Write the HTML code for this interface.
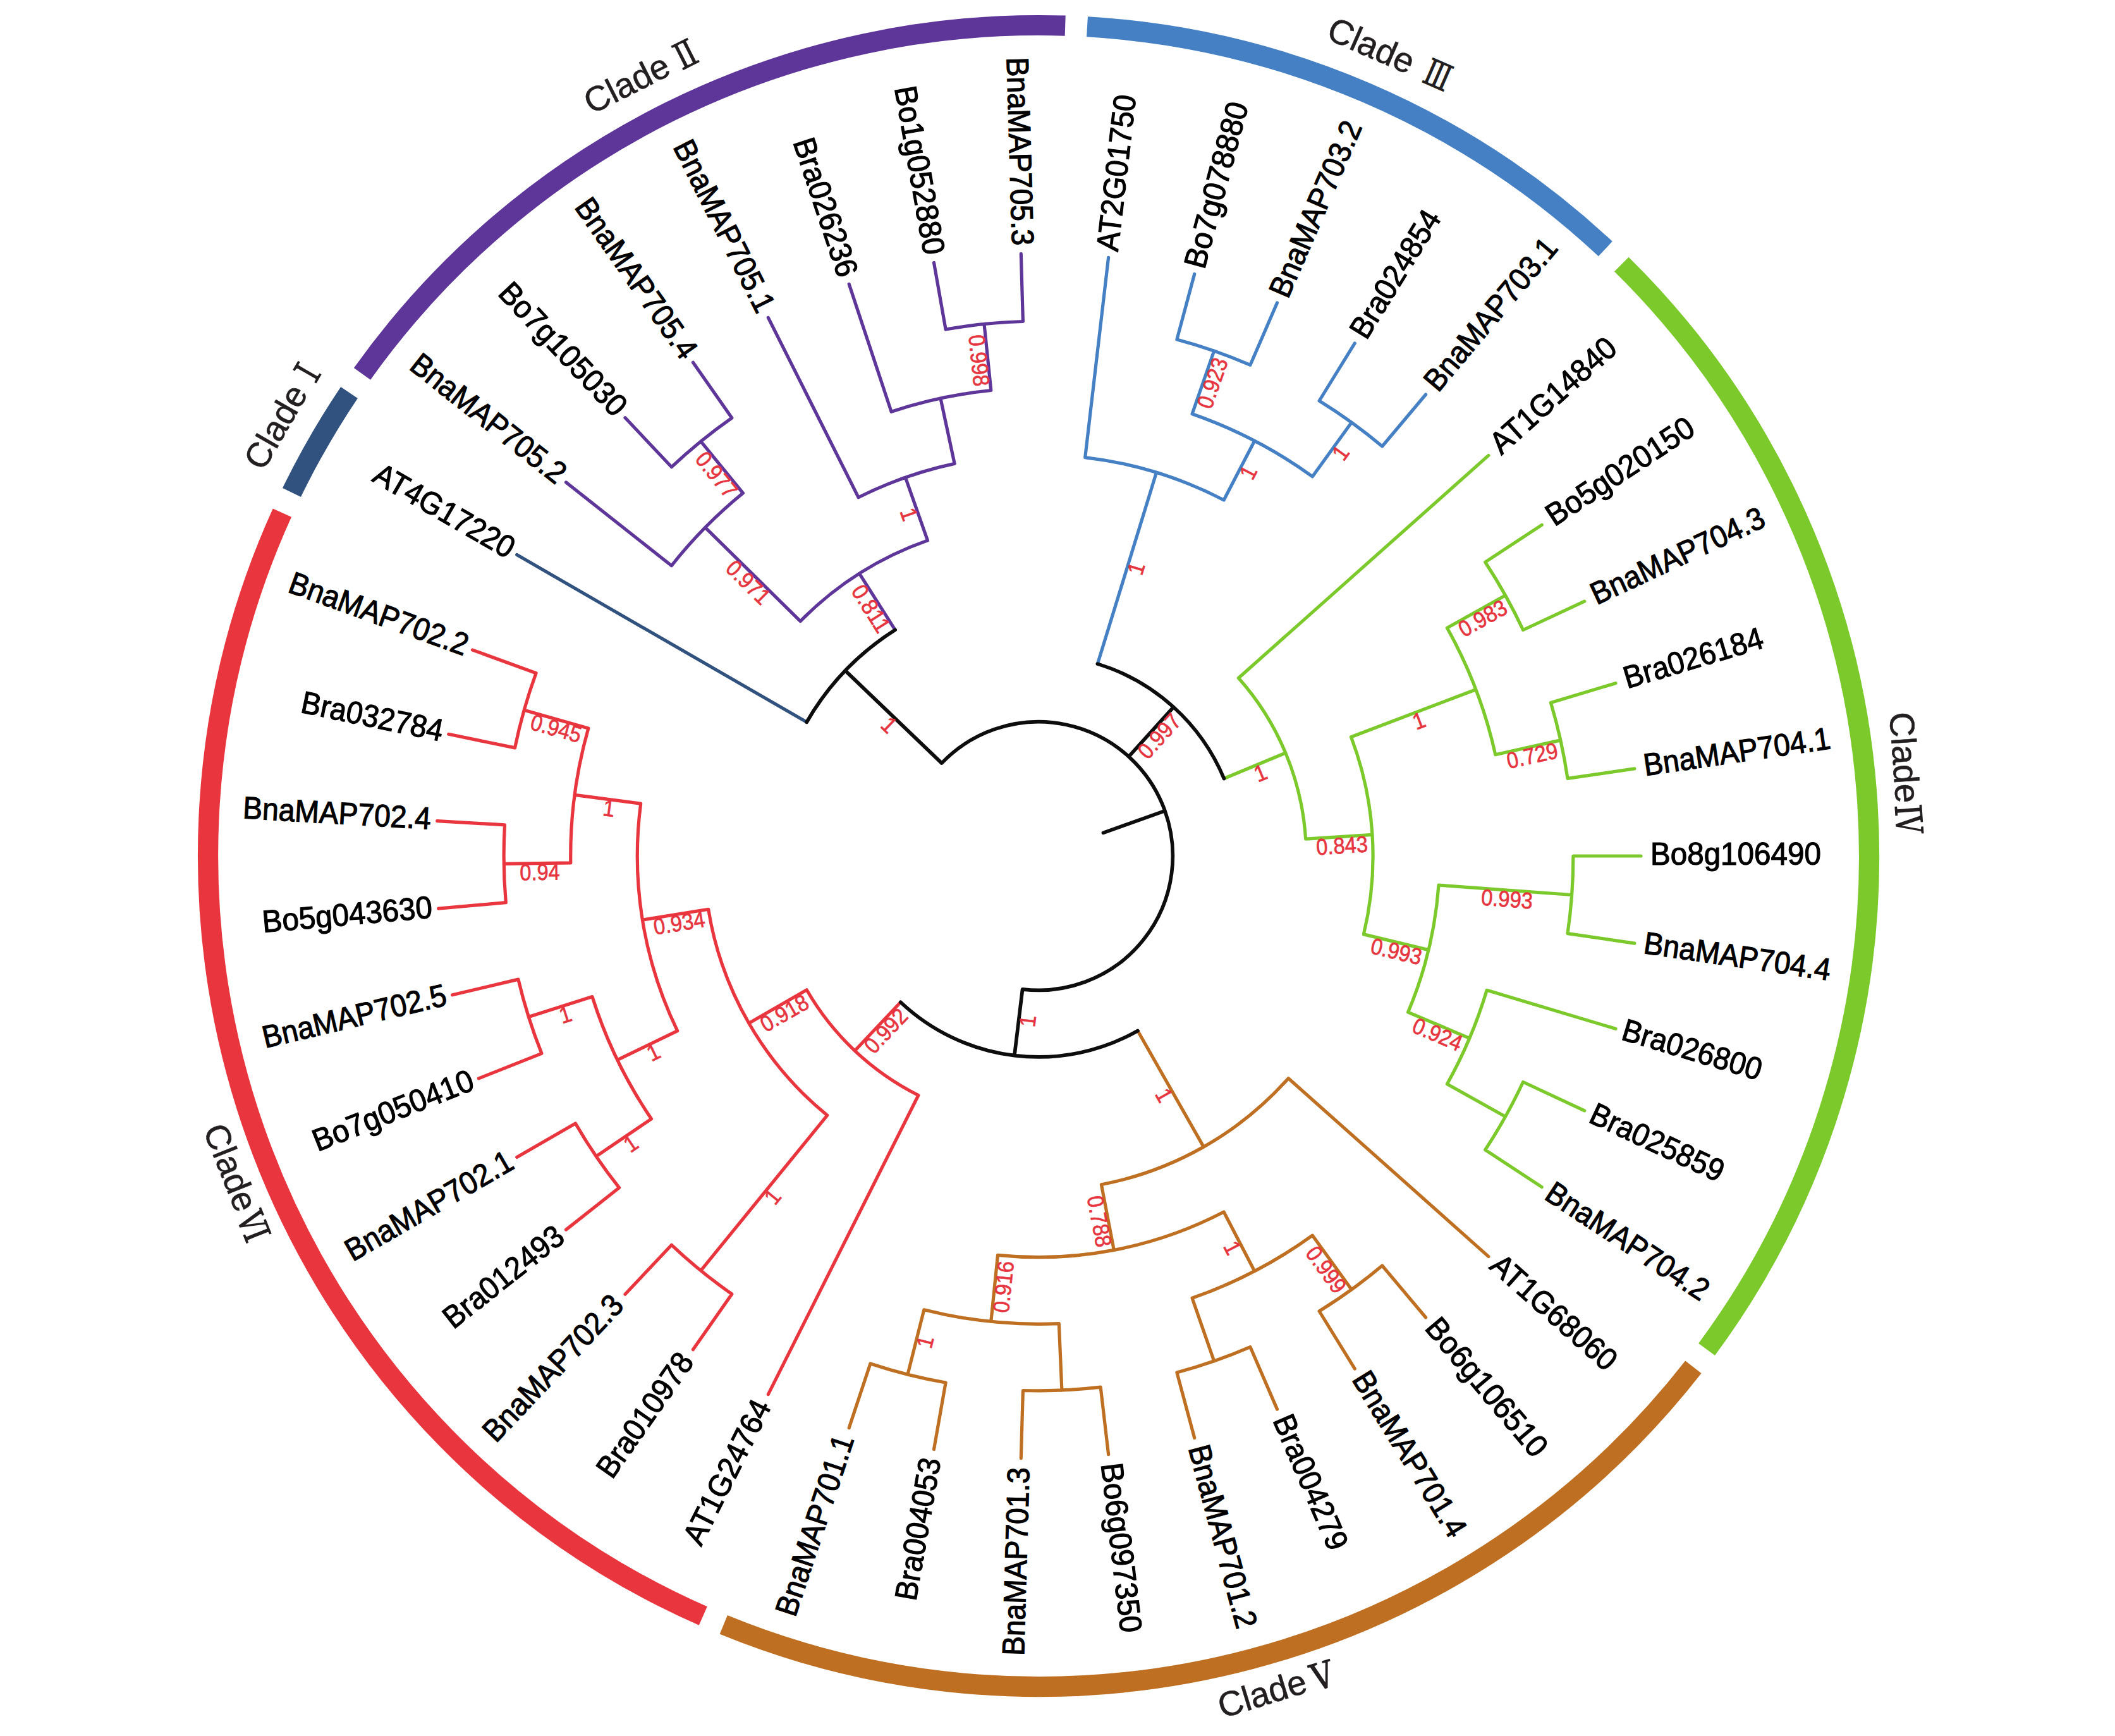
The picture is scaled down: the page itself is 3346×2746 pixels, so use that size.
<!DOCTYPE html>
<html><head><meta charset="utf-8"><title>Phylogenetic tree</title>
<style>html,body{margin:0;padding:0;background:#fff}svg{display:block}</style></head>
<body>
<svg width="3346" height="2746" viewBox="0 0 3346 2746">
<rect width="3346" height="2746" fill="#fff"/>
<path d="M552.5 620.9A1314.0 1314.0 0 0 0 461.5 779.0" fill="none" stroke="#31527e" stroke-width="32.2"/>
<path d="M446.4 811.2A1314.0 1314.0 0 0 0 1112.3 2556.1" fill="none" stroke="#e9353e" stroke-width="32.2"/>
<path d="M1144.8 2569.9A1314.0 1314.0 0 0 0 2678.9 2162.4" fill="none" stroke="#bf6f21" stroke-width="32.2"/>
<path d="M2700.1 2134.5A1314.0 1314.0 0 0 0 2565.3 418.1" fill="none" stroke="#7cc92c" stroke-width="32.2"/>
<path d="M2539.8 393.6A1314.0 1314.0 0 0 0 1720.0 42.3" fill="none" stroke="#4580c4" stroke-width="32.2"/>
<path d="M1685.2 40.7A1314.0 1314.0 0 0 0 573.0 591.3" fill="none" stroke="#5e3699" stroke-width="32.2"/>
<path d="M1424.8 1585.2L1352.4 1662.0M1276.2 1565.8A423.5 423.5 0 0 0 1452.9 1732.5M1276.2 1565.8L1184.8 1618.6M1120.7 1438.3A529.1 529.1 0 0 0 1308.8 1764.2M1120.7 1438.3L1016.4 1455.1M1013.7 1271.2A634.7 634.7 0 0 0 1071.7 1630.6M1013.7 1271.2L909.0 1257.4M930.8 1152.0A740.3 740.3 0 0 0 902.8 1364.8M930.8 1152.0L829.2 1123.2M848.1 1064.7A845.9 845.9 0 0 0 814.6 1182.9M848.1 1064.7L747.5 1028.1M814.6 1182.9L709.7 1161.3M902.8 1364.8L797.2 1366.3M798.5 1304.8A845.9 845.9 0 0 0 800.3 1427.7M798.5 1304.8L691.6 1298.6M800.3 1427.7L693.6 1437.1M1071.7 1630.6L976.7 1676.6M937.0 1576.6A740.3 740.3 0 0 0 1030.5 1769.8M937.0 1576.6L836.3 1608.4M819.9 1549.1A845.9 845.9 0 0 0 856.9 1666.3M819.9 1549.1L715.7 1573.8M856.9 1666.3L757.3 1705.9M1030.5 1769.8L943.1 1829.1M910.4 1777.0A845.9 845.9 0 0 0 979.5 1878.7M910.4 1777.0L817.7 1830.5M979.5 1878.7L895.5 1945.1M1308.8 1764.2L1108.7 2009.8M1062.5 1969.3A845.9 845.9 0 0 0 1157.8 2046.9M1062.5 1969.3L989.0 2047.2M1157.8 2046.9L1096.4 2134.7M1452.9 1732.5L1215.3 2205.6" fill="none" stroke="#e9353e" stroke-width="5.2" stroke-linecap="round" stroke-linejoin="round"/>
<path d="M1799.9 1630.5L1904.2 1814.1M1742.4 1873.7A529.1 529.1 0 0 0 2038.3 1705.7M1742.4 1873.7L1762.3 1977.4M1578.5 1985.4A634.7 634.7 0 0 0 1936.1 1917.0M1578.5 1985.4L1567.8 2090.5M1461.8 2071.8A740.3 740.3 0 0 0 1675.3 2093.6M1461.8 2071.8L1436.0 2174.2M1376.9 2157.0A845.9 845.9 0 0 0 1496.1 2187.0M1376.9 2157.0L1343.2 2258.6M1496.1 2187.0L1477.5 2292.5M1675.3 2093.6L1679.9 2199.1M1618.4 2199.5A845.9 845.9 0 0 0 1741.2 2194.2M1618.4 2199.5L1615.3 2306.6M1741.2 2194.2L1753.6 2300.6M1936.1 1917.0L1984.8 2010.7M1886.1 2053.3A740.3 740.3 0 0 0 2076.4 1954.2M1886.1 2053.3L1920.7 2153.0M1861.9 2171.1A845.9 845.9 0 0 0 1978.0 2130.7M1861.9 2171.1L1889.7 2274.5M1978.0 2130.7L2020.5 2229.1M2076.4 1954.2L2138.2 2039.8M2087.1 2074.0A845.9 845.9 0 0 0 2186.7 2002.0M2087.1 2074.0L2143.3 2165.1M2186.7 2002.0L2255.6 2084.0M2038.3 1705.7L2354.9 1987.6" fill="none" stroke="#bf6f21" stroke-width="5.2" stroke-linecap="round" stroke-linejoin="round"/>
<path d="M1936.4 1231.5L2033.8 1190.9M2065.6 1327.1A423.5 423.5 0 0 0 1959.4 1072.5M2065.6 1327.1L2171.0 1320.4M2157.4 1477.9A529.1 529.1 0 0 0 2137.5 1165.8M2157.4 1477.9L2260.1 1502.6M2227.6 1601.1A634.7 634.7 0 0 0 2276.0 1400.1M2227.6 1601.1L2324.9 1642.3M2289.4 1714.8A740.3 740.3 0 0 0 2352.2 1566.3M2289.4 1714.8L2381.6 1766.3M2349.7 1818.8A845.9 845.9 0 0 0 2409.6 1711.5M2349.7 1818.8L2439.2 1877.7M2409.6 1711.5L2506.7 1756.8M2352.2 1566.3L2556.0 1627.3M2276.0 1400.1L2486.7 1415.5M2480.0 1476.6A845.9 845.9 0 0 0 2488.9 1354.0M2480.0 1476.6L2585.9 1492.1M2488.9 1354.0L2596.0 1354.0M2137.5 1165.8L2334.9 1090.7M2365.8 1193.8A740.3 740.3 0 0 0 2289.4 993.2M2365.8 1193.8L2468.8 1170.9M2480.0 1231.4A845.9 845.9 0 0 0 2453.4 1111.4M2480.0 1231.4L2585.9 1215.9M2453.4 1111.4L2556.0 1080.7M2289.4 993.2L2381.6 941.7M2409.6 996.5A845.9 845.9 0 0 0 2349.7 889.2M2409.6 996.5L2506.7 951.2M2349.7 889.2L2439.2 830.3M1959.4 1072.5L2354.9 720.4" fill="none" stroke="#7cc92c" stroke-width="5.2" stroke-linecap="round" stroke-linejoin="round"/>
<path d="M1736.4 1050.1L1829.5 747.3M1936.1 791.0A634.7 634.7 0 0 0 1716.7 723.6M1936.1 791.0L1984.8 697.3M2076.4 753.8A740.3 740.3 0 0 0 1886.1 654.7M2076.4 753.8L2138.2 668.2M2186.7 706.0A845.9 845.9 0 0 0 2087.1 634.0M2186.7 706.0L2255.6 624.0M2087.1 634.0L2143.3 542.9M1886.1 654.7L1920.7 555.0M1978.0 577.3A845.9 845.9 0 0 0 1861.9 536.9M1978.0 577.3L2020.5 478.9M1861.9 536.9L1889.7 433.5M1716.7 723.6L1753.6 407.4" fill="none" stroke="#4580c4" stroke-width="5.2" stroke-linecap="round" stroke-linejoin="round"/>
<path d="M1416.1 996.4L1359.5 907.2M1467.5 854.9A529.1 529.1 0 0 0 1266.2 982.6M1467.5 854.9L1432.4 755.2M1510.1 733.4A634.7 634.7 0 0 0 1358.1 786.8M1510.1 733.4L1488.0 630.1M1567.8 617.5A740.3 740.3 0 0 0 1410.1 651.3M1567.8 617.5L1557.0 512.5M1618.4 508.5A845.9 845.9 0 0 0 1496.1 521.0M1618.4 508.5L1615.3 401.4M1496.1 521.0L1477.5 415.5M1410.1 651.3L1343.2 449.4M1358.1 786.8L1215.3 502.4M1266.2 982.6L1115.7 834.3M1175.4 780.0A740.3 740.3 0 0 0 1062.3 894.8M1175.4 780.0L1108.7 698.2M1157.8 661.1A845.9 845.9 0 0 0 1062.5 738.7M1157.8 661.1L1096.4 573.3M1062.5 738.7L989.0 660.8M1062.3 894.8L895.5 762.9" fill="none" stroke="#5e3699" stroke-width="5.2" stroke-linecap="round" stroke-linejoin="round"/>
<path d="M1276.2 1142.2L817.7 877.5" fill="none" stroke="#31527e" stroke-width="5.2" stroke-linecap="round" stroke-linejoin="round"/>
<path d="M1617.6 1564.8A212.3 212.3 0 1 0 1489.8 1207.1M1617.6 1564.8L1604.9 1669.6M1424.8 1585.2A317.9 317.9 0 0 0 1799.9 1630.5M1785.6 1196.8L1856.6 1118.5M1936.4 1231.5A317.9 317.9 0 0 0 1736.4 1050.1M1489.8 1207.1L1337.3 1060.9M1416.1 996.4A423.5 423.5 0 0 0 1276.2 1142.2M1842.9 1282.6L1745.4 1317.4" fill="none" stroke="#0d0d0d" stroke-width="5.7" stroke-linecap="round" stroke-linejoin="round"/>
<g font-family="'Liberation Sans', sans-serif" font-size="49.5" fill="#000" stroke="#000" stroke-width="1.15">
<text transform="translate(738.3 1024.7) rotate(20.00)" x="0" y="13.7" text-anchor="end" textLength="298.0" lengthAdjust="spacingAndGlyphs">BnaMAP702.2</text>
<text transform="translate(700.1 1159.3) rotate(11.67)" x="0" y="13.7" text-anchor="end" textLength="228.1" lengthAdjust="spacingAndGlyphs">Bra032784</text>
<text transform="translate(681.8 1298.0) rotate(3.33)" x="0" y="13.7" text-anchor="end" textLength="298.0" lengthAdjust="spacingAndGlyphs">BnaMAP702.4</text>
<text transform="translate(683.9 1437.9) rotate(-5.00)" x="0" y="13.7" text-anchor="end" textLength="269.9" lengthAdjust="spacingAndGlyphs">Bo5g043630</text>
<text transform="translate(706.2 1576.0) rotate(-13.33)" x="0" y="13.7" text-anchor="end" textLength="298.0" lengthAdjust="spacingAndGlyphs">BnaMAP702.5</text>
<text transform="translate(748.2 1709.5) rotate(-21.67)" x="0" y="13.7" text-anchor="end" textLength="269.9" lengthAdjust="spacingAndGlyphs">Bo7g050410</text>
<text transform="translate(809.2 1835.4) rotate(-30.00)" x="0" y="13.7" text-anchor="end" textLength="298.0" lengthAdjust="spacingAndGlyphs">BnaMAP702.1</text>
<text transform="translate(887.8 1951.2) rotate(-38.33)" x="0" y="13.7" text-anchor="end" textLength="228.1" lengthAdjust="spacingAndGlyphs">Bra012493</text>
<text transform="translate(979.1 2057.7) rotate(-46.67)" x="0" y="13.7" text-anchor="end" textLength="298.0" lengthAdjust="spacingAndGlyphs">BnaMAP702.3</text>
<text transform="translate(1088.1 2146.5) rotate(-55.00)" x="0" y="13.7" text-anchor="end" textLength="228.1" lengthAdjust="spacingAndGlyphs">Bra010978</text>
<text transform="translate(1208.8 2218.6) rotate(-63.33)" x="0" y="13.7" text-anchor="end" textLength="248.9" lengthAdjust="spacingAndGlyphs">AT1G24764</text>
<text transform="translate(1338.7 2272.4) rotate(-71.67)" x="0" y="13.7" text-anchor="end" textLength="298.0" lengthAdjust="spacingAndGlyphs">BnaMAP701.1</text>
<text transform="translate(1475.0 2306.8) rotate(-80.00)" x="0" y="13.7" text-anchor="end" textLength="228.1" lengthAdjust="spacingAndGlyphs">Bra004053</text>
<text transform="translate(1614.9 2321.1) rotate(-88.33)" x="0" y="13.7" text-anchor="end" textLength="298.0" lengthAdjust="spacingAndGlyphs">BnaMAP701.3</text>
<text transform="translate(1755.3 2314.5) rotate(-276.67)" x="0" y="13.7" textLength="269.9" lengthAdjust="spacingAndGlyphs">Bo6g097350</text>
<text transform="translate(1893.0 2287.1) rotate(-285.00)" x="0" y="13.7" textLength="298.0" lengthAdjust="spacingAndGlyphs">BnaMAP701.2</text>
<text transform="translate(2025.6 2241.0) rotate(-293.33)" x="0" y="13.7" textLength="228.1" lengthAdjust="spacingAndGlyphs">Bra004279</text>
<text transform="translate(2149.3 2174.9) rotate(-301.67)" x="0" y="13.7" textLength="298.0" lengthAdjust="spacingAndGlyphs">BnaMAP701.4</text>
<text transform="translate(2263.0 2092.8) rotate(-310.00)" x="0" y="13.7" textLength="269.9" lengthAdjust="spacingAndGlyphs">Bo6g106510</text>
<text transform="translate(2363.5 1995.2) rotate(-318.33)" x="0" y="13.7" textLength="248.9" lengthAdjust="spacingAndGlyphs">AT1G68060</text>
<text transform="translate(2448.8 1884.0) rotate(-326.67)" x="0" y="13.7" textLength="298.0" lengthAdjust="spacingAndGlyphs">BnaMAP704.2</text>
<text transform="translate(2517.1 1761.6) rotate(-335.00)" x="0" y="13.7" textLength="228.1" lengthAdjust="spacingAndGlyphs">Bra025859</text>
<text transform="translate(2567.0 1630.6) rotate(-343.33)" x="0" y="13.7" textLength="228.1" lengthAdjust="spacingAndGlyphs">Bra026800</text>
<text transform="translate(2600.8 1494.3) rotate(-351.67)" x="0" y="13.7" textLength="298.0" lengthAdjust="spacingAndGlyphs">BnaMAP704.4</text>
<text transform="translate(2611.0 1354.0) rotate(-360.00)" x="0" y="13.7" textLength="269.9" lengthAdjust="spacingAndGlyphs">Bo8g106490</text>
<text transform="translate(2600.8 1213.7) rotate(-368.33)" x="0" y="13.7" textLength="298.0" lengthAdjust="spacingAndGlyphs">BnaMAP704.1</text>
<text transform="translate(2570.3 1076.4) rotate(-376.67)" x="0" y="13.7" textLength="228.1" lengthAdjust="spacingAndGlyphs">Bra026184</text>
<text transform="translate(2520.3 944.9) rotate(-385.00)" x="0" y="13.7" textLength="298.0" lengthAdjust="spacingAndGlyphs">BnaMAP704.3</text>
<text transform="translate(2451.8 822.1) rotate(-393.33)" x="0" y="13.7" textLength="269.9" lengthAdjust="spacingAndGlyphs">Bo5g020150</text>
<text transform="translate(2366.1 710.5) rotate(-401.67)" x="0" y="13.7" textLength="248.9" lengthAdjust="spacingAndGlyphs">AT1G14840</text>
<text transform="translate(2264.7 613.1) rotate(-410.00)" x="0" y="13.7" textLength="298.0" lengthAdjust="spacingAndGlyphs">BnaMAP703.1</text>
<text transform="translate(2150.0 532.0) rotate(-418.33)" x="0" y="13.7" textLength="228.1" lengthAdjust="spacingAndGlyphs">Bra024854</text>
<text transform="translate(2025.0 468.5) rotate(-426.67)" x="0" y="13.7" textLength="298.0" lengthAdjust="spacingAndGlyphs">BnaMAP703.2</text>
<text transform="translate(1892.2 423.8) rotate(-435.00)" x="0" y="13.7" textLength="269.9" lengthAdjust="spacingAndGlyphs">Bo7g078880</text>
<text transform="translate(1754.8 397.5) rotate(-443.33)" x="0" y="13.7" textLength="248.9" lengthAdjust="spacingAndGlyphs">AT2G01750</text>
<text transform="translate(1614.9 388.4) rotate(-271.67)" x="0" y="13.7" text-anchor="end" textLength="298.0" lengthAdjust="spacingAndGlyphs">BnaMAP705.3</text>
<text transform="translate(1475.3 402.7) rotate(-280.00)" x="0" y="13.7" text-anchor="end" textLength="269.9" lengthAdjust="spacingAndGlyphs">Bo1g052880</text>
<text transform="translate(1339.1 437.0) rotate(-288.33)" x="0" y="13.7" text-anchor="end" textLength="228.1" lengthAdjust="spacingAndGlyphs">Bra026236</text>
<text transform="translate(1210.1 492.1) rotate(-296.67)" x="0" y="13.7" text-anchor="end" textLength="298.0" lengthAdjust="spacingAndGlyphs">BnaMAP705.1</text>
<text transform="translate(1089.8 563.9) rotate(-305.00)" x="0" y="13.7" text-anchor="end" textLength="298.0" lengthAdjust="spacingAndGlyphs">BnaMAP705.4</text>
<text transform="translate(981.1 652.4) rotate(-313.33)" x="0" y="13.7" text-anchor="end" textLength="269.9" lengthAdjust="spacingAndGlyphs">Bo7g105030</text>
<text transform="translate(887.8 756.8) rotate(-321.67)" x="0" y="13.7" text-anchor="end" textLength="298.0" lengthAdjust="spacingAndGlyphs">BnaMAP705.2</text>
<text transform="translate(809.2 872.6) rotate(-330.00)" x="0" y="13.7" text-anchor="end" textLength="248.9" lengthAdjust="spacingAndGlyphs">AT4G17220</text>
</g>
<g font-family="'Liberation Sans', sans-serif" font-size="36.0" fill="#e6353f" stroke="#e6353f" stroke-width="0.7" text-anchor="middle">
<text transform="translate(1611.3 1617.2) rotate(-83.12)" x="3.8" y="26.5" textLength="18.6" lengthAdjust="spacingAndGlyphs">1</text>
<text transform="translate(1388.6 1623.6) rotate(-46.67)" x="3.8" y="26.5" textLength="81.8" lengthAdjust="spacingAndGlyphs">0.992</text>
<text transform="translate(1230.5 1592.2) rotate(-30.00)" x="3.8" y="26.5" textLength="81.8" lengthAdjust="spacingAndGlyphs">0.918</text>
<text transform="translate(1068.5 1446.7) rotate(-9.17)" x="3.8" y="26.5" textLength="81.8" lengthAdjust="spacingAndGlyphs">0.934</text>
<text transform="translate(961.4 1264.3) rotate(7.50)" x="3.8" y="26.5" textLength="18.6" lengthAdjust="spacingAndGlyphs">1</text>
<text transform="translate(880.0 1137.6) rotate(15.83)" x="3.8" y="26.5" textLength="81.8" lengthAdjust="spacingAndGlyphs">0.945</text>
<text transform="translate(850.0 1365.5) rotate(-0.83)" x="3.8" y="26.5" textLength="63.2" lengthAdjust="spacingAndGlyphs">0.94</text>
<text transform="translate(1024.2 1653.6) rotate(-25.83)" x="3.8" y="26.5" textLength="18.6" lengthAdjust="spacingAndGlyphs">1</text>
<text transform="translate(886.6 1592.5) rotate(-17.50)" x="3.8" y="26.5" textLength="18.6" lengthAdjust="spacingAndGlyphs">1</text>
<text transform="translate(986.8 1799.4) rotate(-34.17)" x="3.8" y="26.5" textLength="18.6" lengthAdjust="spacingAndGlyphs">1</text>
<text transform="translate(1208.8 1887.0) rotate(-50.83)" x="3.8" y="26.5" textLength="18.6" lengthAdjust="spacingAndGlyphs">1</text>
<text transform="translate(1852.1 1722.3) rotate(-299.58)" x="3.8" y="26.5" textLength="18.6" lengthAdjust="spacingAndGlyphs">1</text>
<text transform="translate(1752.4 1925.5) rotate(-280.83)" x="3.8" y="26.5" textLength="81.8" lengthAdjust="spacingAndGlyphs">0.788</text>
<text transform="translate(1573.1 2037.9) rotate(-84.17)" x="3.8" y="26.5" textLength="81.8" lengthAdjust="spacingAndGlyphs">0.916</text>
<text transform="translate(1448.9 2123.0) rotate(-75.83)" x="3.8" y="26.5" textLength="18.6" lengthAdjust="spacingAndGlyphs">1</text>
<text transform="translate(1960.5 1963.8) rotate(-297.50)" x="3.8" y="26.5" textLength="18.6" lengthAdjust="spacingAndGlyphs">1</text>
<text transform="translate(2107.3 1997.0) rotate(-305.83)" x="3.8" y="26.5" textLength="81.8" lengthAdjust="spacingAndGlyphs">0.999</text>
<text transform="translate(1821.1 1157.7) rotate(-407.79)" x="3.8" y="26.5" textLength="81.8" lengthAdjust="spacingAndGlyphs">0.997</text>
<text transform="translate(1985.1 1211.2) rotate(-382.66)" x="3.8" y="26.5" textLength="18.6" lengthAdjust="spacingAndGlyphs">1</text>
<text transform="translate(2118.3 1323.7) rotate(-363.65)" x="3.8" y="26.5" textLength="81.8" lengthAdjust="spacingAndGlyphs">0.843</text>
<text transform="translate(2208.7 1490.3) rotate(-346.46)" x="3.8" y="26.5" textLength="81.8" lengthAdjust="spacingAndGlyphs">0.993</text>
<text transform="translate(2276.2 1621.7) rotate(-337.08)" x="3.8" y="26.5" textLength="81.8" lengthAdjust="spacingAndGlyphs">0.924</text>
<text transform="translate(2381.3 1407.8) rotate(-355.83)" x="3.8" y="26.5" textLength="81.8" lengthAdjust="spacingAndGlyphs">0.993</text>
<text transform="translate(2236.2 1128.3) rotate(-380.83)" x="3.8" y="26.5" textLength="18.6" lengthAdjust="spacingAndGlyphs">1</text>
<text transform="translate(2417.3 1182.3) rotate(-372.50)" x="3.8" y="26.5" textLength="81.8" lengthAdjust="spacingAndGlyphs">0.729</text>
<text transform="translate(2335.5 967.5) rotate(-389.17)" x="3.8" y="26.5" textLength="81.8" lengthAdjust="spacingAndGlyphs">0.983</text>
<text transform="translate(1782.9 898.7) rotate(-432.92)" x="3.8" y="26.5" textLength="18.6" lengthAdjust="spacingAndGlyphs">1</text>
<text transform="translate(1960.5 744.2) rotate(-422.50)" x="3.8" y="26.5" textLength="18.6" lengthAdjust="spacingAndGlyphs">1</text>
<text transform="translate(2107.3 711.0) rotate(-414.17)" x="3.8" y="26.5" textLength="18.6" lengthAdjust="spacingAndGlyphs">1</text>
<text transform="translate(1903.4 604.9) rotate(-430.83)" x="3.8" y="26.5" textLength="81.8" lengthAdjust="spacingAndGlyphs">0.923</text>
<text transform="translate(1413.6 1134.0) rotate(-316.20)" x="3.8" y="26.5" textLength="18.6" lengthAdjust="spacingAndGlyphs">1</text>
<text transform="translate(1387.8 951.8) rotate(-302.40)" x="3.8" y="26.5" textLength="81.8" lengthAdjust="spacingAndGlyphs">0.811</text>
<text transform="translate(1450.0 805.1) rotate(-289.38)" x="3.8" y="26.5" textLength="18.6" lengthAdjust="spacingAndGlyphs">1</text>
<text transform="translate(1562.4 565.0) rotate(-275.83)" x="3.8" y="26.5" textLength="81.8" lengthAdjust="spacingAndGlyphs">0.998</text>
<text transform="translate(1190.9 908.5) rotate(-315.42)" x="3.8" y="26.5" textLength="81.8" lengthAdjust="spacingAndGlyphs">0.971</text>
<text transform="translate(1142.1 739.1) rotate(-309.17)" x="3.8" y="26.5" textLength="81.8" lengthAdjust="spacingAndGlyphs">0.977</text>
</g>
<g transform="translate(462.5 667.2) rotate(-60.0)" fill="#231f20" stroke="#231f20"><text x="-91.9" y="0" font-family="'Liberation Sans', sans-serif" font-size="55.0" stroke-width="0.6">Clade</text><text x="0" y="0" text-anchor="middle" transform="translate(79.7 1.5) scale(0.78 1)" font-family="'Liberation Serif', 'Noto Serif CJK SC', serif" font-size="55.0" stroke-width="1.9">Ⅰ</text></g>
<g transform="translate(1019.5 139.3) rotate(-26.8)" fill="#231f20" stroke="#231f20"><text x="-93.8" y="0" font-family="'Liberation Sans', sans-serif" font-size="55.0" stroke-width="0.6">Clade</text><text x="0" y="0" text-anchor="middle" transform="translate(82.1 1.5) scale(0.81 1)" font-family="'Liberation Serif', 'Noto Serif CJK SC', serif" font-size="55.0" stroke-width="1.9">Ⅱ</text></g>
<g transform="translate(2190.4 101.8) rotate(23.6)" fill="#231f20" stroke="#231f20"><text x="-103.0" y="0" font-family="'Liberation Sans', sans-serif" font-size="55.0" stroke-width="0.6">Clade</text><text x="0" y="0" text-anchor="middle" transform="translate(84.1 1.5) scale(0.73 1)" font-family="'Liberation Serif', 'Noto Serif CJK SC', serif" font-size="55.0" stroke-width="1.9">Ⅲ</text></g>
<g transform="translate(2996.2 1225.3) rotate(85.84)" fill="#231f20" stroke="#231f20"><text x="-97.7" y="0" font-family="'Liberation Sans', sans-serif" font-size="55.0" stroke-width="0.6">Clade</text><text x="0" y="0" text-anchor="middle" transform="translate(73.1 1.5) scale(0.84 1)" font-family="'Liberation Serif', 'Noto Serif CJK SC', serif" font-size="55.0" stroke-width="1.9">Ⅳ</text></g>
<g transform="translate(2025.9 2690.0) rotate(-17.1)" fill="#231f20" stroke="#231f20"><text x="-96.5" y="0" font-family="'Liberation Sans', sans-serif" font-size="55.0" stroke-width="0.6">Clade</text><text x="0" y="0" text-anchor="middle" transform="translate(75.0 1.5) scale(1.0 1)" font-family="'Liberation Serif', 'Noto Serif CJK SC', serif" font-size="55.0" stroke-width="1.9">Ⅴ</text></g>
<g transform="translate(357.0 1878.0) rotate(68.3)" fill="#231f20" stroke="#231f20"><text x="-98.0" y="0" font-family="'Liberation Sans', sans-serif" font-size="55.0" stroke-width="0.6">Clade</text><text x="0" y="0" text-anchor="middle" transform="translate(72.8 1.5) scale(0.83 1)" font-family="'Liberation Serif', 'Noto Serif CJK SC', serif" font-size="55.0" stroke-width="1.9">Ⅵ</text></g>
</svg>
</body></html>
